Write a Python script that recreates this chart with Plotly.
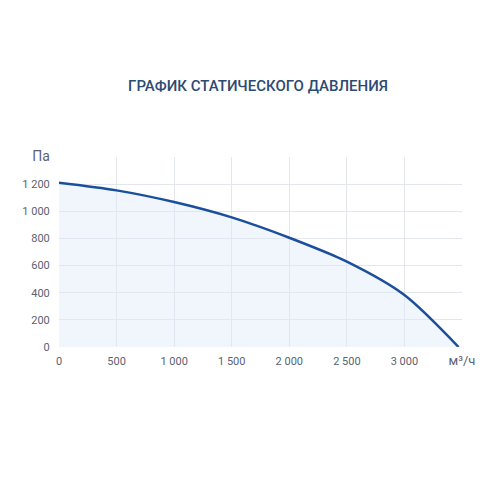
import plotly.graph_objects as go

flow = [0, 500, 1000, 1500, 2000, 2500, 3000, 3470]
pressure = [1210, 1154, 1068, 955, 805, 629, 383, 0]

x_ticks = [0, 500, 1000, 1500, 2000, 2500, 3000, 3500]
x_labels = ["0", "500", "1 000", "1 500", "2 000", "2 500", "3 000",
            "<span style='font-size:13px'>м³/ч</span>"]
y_ticks = [0, 200, 400, 600, 800, 1000, 1200, 1400]
y_labels = ["0", "200", "400", "600", "800", "1 000", "1 200",
            "<span style='font-size:14px'>Па</span>"]

title = "ГРАФИК СТАТИЧЕСКОГО ДАВЛЕНИЯ"

fig = go.Figure()
fig.add_trace(go.Scatter(
    x=flow, y=pressure, mode="lines",
    line=dict(color="#1b4f9e", width=2.5, shape="spline", smoothing=0.8),
    fill="tozeroy", fillcolor="rgba(225,234,248,0.45)",
    hoverinfo="skip",
))

fig.update_layout(
    width=500, height=500,
    margin=dict(l=51, r=46, t=149, b=161, autoexpand=False),
    paper_bgcolor="white", plot_bgcolor="white",
    showlegend=False,
    font=dict(family="Roboto, sans-serif", size=11, color="#5b6272"),
    title=dict(text=title, x=(51 + 454) / 2 / 500 - 0.005, xanchor="center",
               y=1 - 78 / 500, yanchor="middle",
               font=dict(family="Roboto, sans-serif", size=15, color="#2d4a72", weight=500)),
)
fig.update_xaxes(range=[0, 3500], tickvals=x_ticks, ticktext=x_labels,
                 showgrid=True, gridcolor="#e3e6eb", gridwidth=1,
                 zeroline=False, showline=False, ticks="outside", ticklen=4,
                 tickcolor="rgba(0,0,0,0)", tickfont=dict(size=11),
                 automargin=False)
fig.update_yaxes(range=[0, 1400], tickvals=y_ticks, ticktext=y_labels,
                 showgrid=True, gridcolor="#e3e6eb", gridwidth=1,
                 zeroline=False, showline=False, ticks="outside", ticklen=6,
                 tickcolor="rgba(0,0,0,0)", tickfont=dict(size=11),
                 automargin=False)
fig.write_html("out.html")
